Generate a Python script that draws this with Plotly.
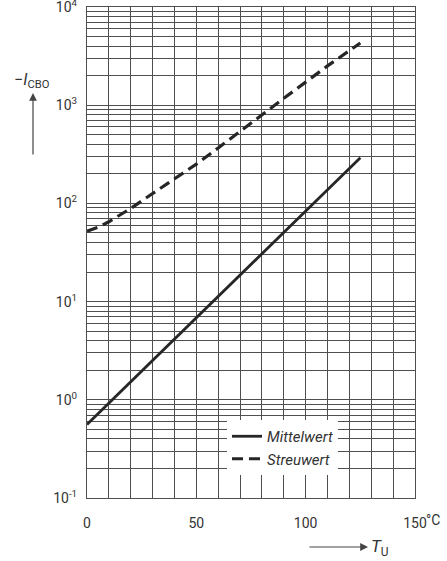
import plotly.graph_objects as go

# ---- data ----
t_mittel = [0, 25, 50, 75, 100, 125]
i_mittel = [0.56, 1.95, 6.8, 24, 84, 292]

t_streu = [0, 5, 10, 15, 20, 30, 40, 50, 60, 70, 80, 90, 100, 110, 125]
i_streu = [52, 57, 65, 76, 89, 126, 176, 251, 367, 543, 804, 1175, 1718, 2512, 4300]

x_ticks = [0, 50, 100, 150]
x_ticktext = ["0", "50", "100", "150"]
y_ticks = [0.1, 1, 10, 100, 1000, 10000]
y_ticktext = ["10<sup>-1</sup>", "10<sup>0</sup>", "10<sup>1</sup>",
              "10<sup>2</sup>", "10<sup>3</sup>", "10<sup>4</sup>"]

FONT = "Roboto, Liberation Sans, sans-serif"
INK = "#262626"
GRID = "#4f4f4f"

fig = go.Figure()
fig.add_trace(go.Scatter(x=t_mittel, y=i_mittel, mode="lines",
                         name="<i>Mittelwert</i>",
                         line=dict(color=INK, width=2.8)))
fig.add_trace(go.Scatter(x=t_streu, y=i_streu, mode="lines",
                         name="<i>Streuwert</i>",
                         line=dict(color=INK, width=3.2, dash="11px,6px")))

W, H = 447, 561
L, R, T, B = 87, 32, 7, 63
pw, ph = W - L - R, H - T - B


def px(x):
    return (x - L) / pw


def py(y):
    return (H - B - y) / ph


fig.update_layout(
    width=W, height=H,
    margin=dict(l=L, r=R, t=T, b=B, pad=0),
    paper_bgcolor="white", plot_bgcolor="white",
    font=dict(family=FONT, color="#333333", size=13),
    showlegend=True,
    legend=dict(x=px(227), y=py(420), xanchor="left", yanchor="top",
                bgcolor="white", borderwidth=0,
                font=dict(family=FONT, size=15, color="#333333"),
                tracegroupgap=0, itemwidth=30),
    xaxis=dict(range=[0, 150], tickvals=x_ticks, ticktext=x_ticktext,
               showgrid=True, gridcolor=GRID, gridwidth=1,
               minor=dict(dtick=10, tick0=0, showgrid=True, gridcolor=GRID, gridwidth=1),
               zeroline=False, showline=True, linecolor=GRID, linewidth=1.2, mirror=True,
               ticks="", ticklabelstandoff=12, automargin=False,
               tickfont=dict(size=14)),
    yaxis=dict(type="log", range=[-1, 4], tickvals=y_ticks, ticktext=y_ticktext,
               showgrid=True, gridcolor=GRID, gridwidth=1,
               minor=dict(dtick="D1", showgrid=True, gridcolor=GRID, gridwidth=1),
               zeroline=False, showline=True, linecolor=GRID, linewidth=1.2, mirror=True,
               ticks="", ticklabelstandoff=6, automargin=False,
               ticklabeloverflow="allow",
               tickfont=dict(size=14)),
)

# °C unit next to the 150 tick
fig.add_annotation(x=px(424), y=py(520), xref="paper", yref="paper",
                   text="°C", showarrow=False, xanchor="left", yanchor="middle",
                   font=dict(size=14))

# y axis title with arrow
fig.add_annotation(x=px(32), y=py(80), xref="paper", yref="paper",
                   text="−<i>I</i><sub>CBO</sub>", showarrow=False,
                   xanchor="center", yanchor="middle", font=dict(size=16))
fig.add_annotation(x=px(33), y=py(93), xref="paper", yref="paper",
                   ax=0, ay=63, axref="pixel", ayref="pixel",
                   text="", showarrow=True, arrowhead=2, arrowsize=1.3,
                   arrowwidth=1.2, arrowcolor="#444444")

# x axis title with arrow
fig.add_annotation(x=px(368), y=py(547), xref="paper", yref="paper",
                   ax=-60, ay=0, axref="pixel", ayref="pixel",
                   text="", showarrow=True, arrowhead=2, arrowsize=1.3,
                   arrowwidth=1.2, arrowcolor="#444444")
fig.add_annotation(x=px(369), y=py(547), xref="paper", yref="paper",
                   text="<i>T</i><sub>U</sub>", showarrow=False,
                   xanchor="left", yanchor="middle", font=dict(size=17))

fig.write_html("out.html", config={"displayModeBar": False},
               post_script="document.body.style.margin='0';")
